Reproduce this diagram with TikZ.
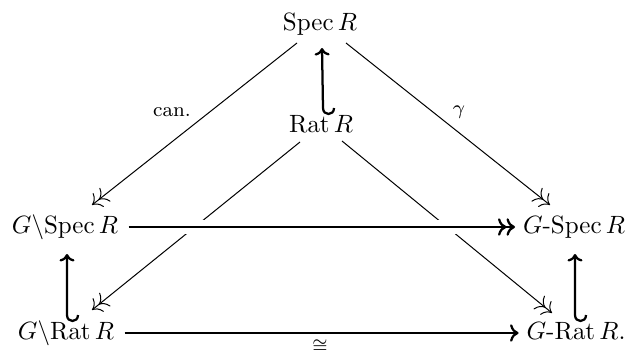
\documentclass[tikz,border=0pt]{standalone}
\usetikzlibrary{arrows.meta,calc}
\begin{document}
\begin{tikzpicture}[x=0.4pt,y=-0.4pt,
  obj/.style={inner sep=0pt,text height=7.5pt,text depth=2.5pt},
  lab/.style={inner sep=0pt,font=\footnotesize},
  thinline/.style={line width=0.4pt},
  thickline/.style={line width=0.9pt},
  dbl/.style={-{To[length=3.4pt,width=7pt]To[length=3.4pt,width=7pt]}},
  sgl/.style={-{To[length=3.4pt,width=7pt]}},
  vsgl/.style={-{To[length=3pt,width=6pt]}}]
\useasboundingbox (0,0) rectangle (631,352);
\node[obj] (s)   at (320,24)  {$\mathrm{Spec}\,R$};
\node[obj] (r)   at (321,126) {$\mathrm{Rat}\,R$};
\node[obj] (qs)  at (65,227)  {$G\backslash\mathrm{Spec}\,R$};
\node[obj] (gs)  at (574,227) {$G$-$\mathrm{Spec}\,R$};
\node[obj] (qr)  at (66,333)  {$G\backslash\mathrm{Rat}\,R$};
\node[obj] (gr)  at (576,333) {$G$-$\mathrm{Rat}\,R$.};
\node[lab] (can) at (172,112) {can.};
\node[lab] (gam) at (459,112) {$\gamma$};
% diagonals
\draw[thinline,dbl] ($(s)+(-23,19)$) -- ($(qs)+(27,-22)$);
\draw[thinline,dbl] ($(s)+(26,19)$) -- ($(gs)+(-24,-22)$);
\draw[thinline,dbl] ($(r)+(-21,16)$) -- ($(qr)+(26,-23)$);
\draw[thinline,dbl] ($(r)+(21,15)$) -- ($(gr)+(-24,-20)$);
% horizontals with crossing gap
\draw[white,line width=5.4pt,shorten <=5pt,shorten >=6pt] (qs) -- (gs);
\draw[thickline,dbl,shorten <=4pt,shorten >=3pt] (qs) -- (gs);
\draw[thickline,sgl,shorten <=4pt,shorten >=3pt] (qr) -- (gr);
\node[lab,font=\normalsize] (iso) at (320,346) {$\scriptstyle\cong$};
% hooked inclusions
\draw[thickline,vsgl] ($(r.north)+(13,-5)$) .. controls +(0,8) and +(0,8) .. ($(r.north)+(2,-5)$) -- ($(s.south)+(2,11)$);
\draw[thickline,vsgl] ($(qr.north)+(12,-5)$) .. controls +(0,8) and +(0,8) .. ($(qr.north)+(1,-5)$) -- ($(qr.north |- qs.south)+(1,14)$);
\draw[thickline,vsgl] ($(gr.north)+(10,-5)$) .. controls +(0,8) and +(0,8) .. ($(gr.north)+(-1,-5)$) -- ($(gr.north |- gs.south)+(-1,14)$);
\end{tikzpicture}
\end{document}
